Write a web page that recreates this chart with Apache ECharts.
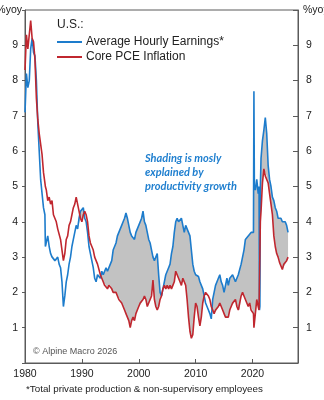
<!DOCTYPE html>
<html><head><meta charset="utf-8">
<script src="https://cdn.jsdelivr.net/npm/echarts@6/dist/echarts.min.js"></script>
<style>html,body{margin:0;padding:0;background:#fff}#c{width:324px;height:400px}</style>
</head><body><div id="c"></div>
<script>
const years = [
1980,1980.25,1980.5,1980.75,1981,1981.25,1981.5,1981.75,1982,1982.25,1982.5,1982.75,
1983,1983.25,1983.5,1983.58,1983.75,
1984,1984.25,1984.5,1984.75,1985,1985.25,1985.5,1985.75,1986,1986.25,1986.5,1986.75,
1987,1987.25,1987.5,1987.75,1988,1988.25,1988.5,1988.75,1989,1989.25,1989.5,1989.75,
1990,1990.25,1990.5,1990.75,1991,1991.25,1991.5,1991.75,1992,1992.25,1992.5,1992.75,
1993,1993.25,1993.5,1993.75,1994,1994.25,1994.5,1994.75,1995,1995.25,1995.5,1995.75,
1996,1996.25,1996.5,1996.75,1997,1997.25,1997.5,1997.75,1998,1998.25,1998.5,1998.75,
1999,1999.25,1999.5,1999.75,2000,2000.25,2000.5,2000.75,2001,2001.25,2001.5,2001.75,
2002,2002.25,2002.5,2002.75,2003,2003.25,2003.5,2003.75,2004,2004.25,2004.5,2004.75,
2005,2005.25,2005.5,2005.75,2006,2006.25,2006.5,2006.75,2007,2007.25,2007.5,2007.75,
2008,2008.25,2008.5,2008.75,2009,2009.25,2009.5,2009.75,2010,2010.25,2010.5,2010.75,
2011,2011.25,2011.5,2011.75,2012,2012.25,2012.5,2012.75,2013,2013.25,2013.5,2013.75,
2014,2014.25,2014.5,2014.75,2015,2015.25,2015.5,2015.75,2016,2016.25,2016.5,2016.75,
2017,2017.25,2017.5,2017.75,2018,2018.25,2018.5,2018.75,2019,2019.25,2019.5,2019.75,
2020,2020.17,2020.25,2020.33,2020.5,2020.75,
2021,2021.15,2021.22,2021.3,2021.38,2021.5,2021.75,
2022,2022.25,2022.5,2022.75,2023,2023.25,2023.5,2023.75,
2024,2024.25,2024.5,2024.75,2025,2025.25,2025.5,2025.75,
2026,2026.25
];
// Average Hourly Earnings (production & non-supervisory), %yoy
const aheValues = [
7.1,8.2,7.8,8.0, 8.9,9.2,8.8,8.7, 8.0,6.8,6.0,5.2,
4.8,4.4,4.2,3.3,3.3,
3.6,3.3,3.1,3.0, 3.0,2.9,2.9,3.0, 2.8,2.7,2.3,1.6,
1.9,2.3,2.5,2.8, 3.0,3.3,3.5,3.7, 3.9,3.8,4.1,4.3,
4.3,4.4,4.1,4.0, 3.7,3.3,3.1,2.9, 2.7,2.4,2.3,2.5,
2.5,2.4,2.6,2.5, 2.5,2.7,2.6,2.6, 2.8,2.9,3.2,3.3,
3.4,3.6,3.6,3.8, 3.9,4.0,4.1,4.25, 4.1,3.9,3.7,3.6,
3.6,3.5,3.7,3.8, 3.9,3.9,4.1,4.3, 4.0,3.9,3.7,3.5,
3.4,3.2,3.0,2.9, 2.9,3.1,2.5,2.0, 1.9,2.1,2.3,2.5,
2.6,2.7,2.8,3.1, 3.3,3.7,4.0,4.1, 4.0,4.0,4.1,3.9,
3.7,3.9,3.8,3.7, 3.6,3.2,2.8,2.6, 2.5,2.5,2.45,2.3,
2.2,2.1,1.9,1.7, 1.6,1.5,1.4,1.25, 1.8,2.0,2.2,2.2,
2.4,2.5,2.3,2.2, 2.0,2.2,2.4,2.2, 2.4,2.4,2.5,2.4,
2.3,2.4,2.5,2.5, 2.8,3.0,3.2,3.5, 3.5,3.6,3.6,3.7,
3.7,3.7,7.7,5.0,4.9,5.2,
4.8,5.0,1.5,1.6,5.0,5.8,6.3,
6.6,6.95,6.5,5.6, 5.2,5.0,4.7,4.6,
4.4,4.3,4.1,4.1, 4.1,4.0,4.0,4.0,
3.9,3.7
];
// Core PCE inflation, %yoy
const pceValues = [
8.3,9.3,8.9,9.3, 9.7,9.2,9.1,8.6, 7.5,6.9,6.5,6.2,
5.9,5.4,5.1,5.0,4.9,
4.6,4.7,4.5,4.6, 4.2,4.1,4.0,3.8, 3.8,3.5,3.2,2.9,
3.1,3.5,3.6,3.9, 4.0,4.2,4.4,4.5, 4.7,4.5,4.3,4.1,
4.0,4.2,4.3,4.2, 4.0,3.6,3.4,3.3, 3.2,3.0,2.9,2.8,
2.8,2.5,2.4,2.3, 2.2,2.2,2.1,2.2, 2.2,2.1,2.0,1.95,
2.0,1.9,1.8,1.8, 1.7,1.6,1.5,1.4, 1.3,1.2,1.0,1.2,
1.3,1.2,1.4,1.5, 1.6,1.7,1.7,1.8, 1.9,1.8,1.6,1.7,
1.8,1.9,2.35,1.8, 1.6,1.5,1.6,1.8, 1.9,2.1,2.2,2.1,
2.2,2.1,2.2,2.1, 2.2,2.3,2.6,2.5, 2.4,2.3,2.2,2.4,
2.3,2.2,1.8,1.3, 0.9,0.7,0.8,1.3, 1.7,1.6,1.3,1.05,
1.3,1.7,1.9,2.0, 2.0,1.9,1.8,1.6, 1.5,1.4,1.5,1.5,
1.6,1.7,1.6,1.5, 1.4,1.3,1.3,1.3, 1.5,1.6,1.7,1.7,
1.8,1.6,1.5,1.5, 1.9,2.0,1.9,1.8, 1.7,1.6,1.7,1.5,
1.5,1.4,1.0,1.0,1.4,1.8,
1.6,1.5,1.5,1.5,4.0,4.3,5.1,
5.5,5.3,5.3,5.1, 4.8,4.5,4.2,3.6,
3.3,3.1,3.0,2.85, 2.8,2.65,2.8,2.8,
2.9,3.0
];
const xTickYears = [1980, 1990, 2000, 2010, 2020];
const seriesNames = ['Average Hourly Earnings*', 'Core PCE Inflation'];

const BLUE = '#1d7ccc', RED = '#c0272f', GRAY = '#c2c2c2', FRAME = '#5a5a5a';
const FONT = 'Liberation Sans, Arial, sans-serif';

// value first, year second (encode maps them) so that stacking happens on the value dimension
const baseData = years.map((y, i) => [Math.min(aheValues[i], pceValues[i]), y]);
const bandData = years.map((y, i) => [Math.max(aheValues[i] - pceValues[i], 0), y]);
const aheData = years.map((y, i) => [y, aheValues[i]]);
const pceData = years.map((y, i) => [y, pceValues[i]]);

const yFmt = v => (v === 0 || v === 10) ? '' : String(v);

const chart = echarts.init(document.getElementById('c'), null, {renderer: 'canvas'});
chart.setOption({
  animation: false,
  backgroundColor: '#fff',
  textStyle: {fontFamily: FONT},
  grid: {left: 25, right: 26, top: 10, bottom: 37, show: true, borderColor: FRAME, borderWidth: 1,
         backgroundColor: 'transparent', outerBoundsMode: 'none', containLabel: false},
  legend: {
    orient: 'vertical', left: 57, top: 35, padding: 0,
    icon: 'rect', itemWidth: 25, itemHeight: 2, itemGap: 1,
    textStyle: {fontSize: 12, color: '#222', fontFamily: FONT, lineHeight: 14, padding: [0, 0, 0, -1]},
    data: seriesNames
  },
  xAxis: {
    type: 'value', min: 1980, max: 2028, interval: 10,
    axisLine: {show: true, lineStyle: {color: FRAME}},
    axisTick: {show: true, inside: true, length: 4, lineStyle: {color: FRAME}, customValues: xTickYears},
    axisLabel: {fontSize: 10.5, color: '#222', margin: 6, fontFamily: FONT, customValues: xTickYears, formatter: v => String(v)},
    splitLine: {show: false}
  },
  yAxis: [
    {type: 'value', min: 0, max: 10, interval: 1, position: 'left',
     axisLine: {show: true, lineStyle: {color: FRAME}},
     axisTick: {show: true, inside: false, length: 3, lineStyle: {color: FRAME}},
     axisLabel: {fontSize: 10.5, color: '#222', margin: 7, fontFamily: FONT, formatter: yFmt},
     splitLine: {show: false}},
    {type: 'value', min: 0, max: 10, interval: 1, position: 'right',
     axisLine: {show: true, lineStyle: {color: FRAME}},
     axisTick: {show: true, inside: true, length: 5, lineStyle: {color: FRAME}},
     axisLabel: {fontSize: 10.5, color: '#222', margin: 8, fontFamily: FONT, formatter: yFmt},
     splitLine: {show: false}}
  ],
  title: {text: 'U.S.:', left: 57, top: 19, padding: 0,
    textStyle: {fontSize: 12, fontWeight: 'normal', color: '#222', fontFamily: FONT}},
  graphic: [
    {type: 'text', right: 302, top: 5, silent: true,
     style: {text: '%yoy', fill: '#222', font: '10.5px Liberation Sans, Arial, sans-serif'}},
    {type: 'text', left: 303, top: 5, silent: true,
     style: {text: '%yoy', fill: '#222', font: '10.5px Liberation Sans, Arial, sans-serif'}},
    {type: 'text', left: 145, top: 151, silent: true,
     style: {text: 'Shading is mosly\nexplained by\nproductivity growth', fill: '#1f7fcf',
       font: 'italic bold 11px Lato, Liberation Sans, sans-serif', lineHeight: 14}},
    {type: 'text', left: 33, top: 347, silent: true,
     style: {text: '\u00a9 Alpine Macro 2026', fill: '#555', font: '9px Liberation Sans, Arial, sans-serif'}},
    {type: 'text', left: 26, top: 384, silent: true,
     style: {text: '*Total private production & non-supervisory employees', fill: '#222', font: '9.8px Liberation Sans, Arial, sans-serif'}}
  ],
  series: [
    {type: 'line', name: 'base', stack: 'gap', data: baseData, encode: {x: 1, y: 0}, symbol: 'none', silent: true,
     lineStyle: {width: 0, opacity: 0}},
    {type: 'line', name: 'band', stack: 'gap', data: bandData, encode: {x: 1, y: 0}, symbol: 'none', silent: true,
     lineStyle: {width: 0, opacity: 0}, areaStyle: {color: GRAY, opacity: 1}},
    {type: 'line', name: seriesNames[0], data: aheData, symbol: 'none', z: 3,
     lineStyle: {color: BLUE, width: 1.6}, itemStyle: {color: BLUE}},
    {type: 'line', name: seriesNames[1], data: pceData, symbol: 'none', z: 4,
     lineStyle: {color: RED, width: 1.6}, itemStyle: {color: RED}}
  ]
});
</script></body></html>
